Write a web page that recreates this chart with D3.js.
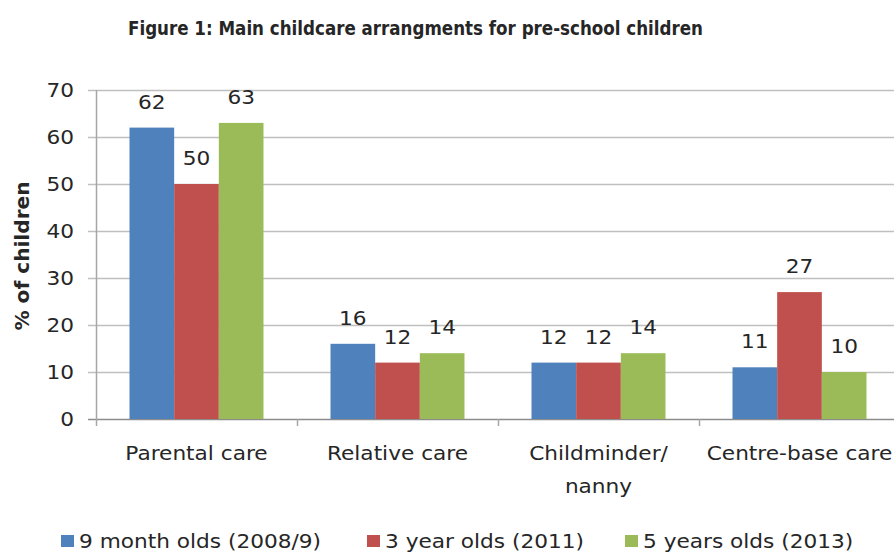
<!DOCTYPE html>
<html><head><meta charset="utf-8">
<script src="https://cdn.jsdelivr.net/npm/d3@7"></script>
<style>
html,body{margin:0;padding:0;background:#fff;}
svg{display:block;}
text{font-family:"DejaVu Sans",sans-serif;fill:#262626;}
</style></head>
<body>
<svg id="chart" width="894" height="554"></svg>
<script>
const categories = [["Parental care"], ["Relative care"], ["Childminder/", "nanny"], ["Centre-base care"]];
const seriesNames = ["9 month olds (2008/9)", "3 year olds (2011)", "5 years olds (2013)"];
const nineMonth = [62, 16, 12, 11];
const threeYear = [50, 12, 12, 27];
const fiveYear = [63, 14, 14, 10];
const yTicks = [0, 10, 20, 30, 40, 50, 60, 70];
const colors = ["#4F81BD", "#C0504D", "#9BBB59"];
const titleText = "Figure 1: Main childcare arrangments for pre-school children";
const yLabel = "% of children";

const series = [nineMonth, threeYear, fiveYear];
const svg = d3.select("#chart");
const SX = 1.14;
const tr = (px, py) => `translate(${px},${py}) scale(${SX},1)`;

const x = d3.scaleBand().domain(d3.range(categories.length)).range([96, 900]).paddingInner(0).paddingOuter(0);
const bw = x.bandwidth();
const xs = d3.scaleBand().domain(d3.range(series.length)).range([bw/6, bw*5/6]).padding(0);
const y = d3.scaleLinear().domain([0, 70]).range([419, 90]);

// gridlines
svg.append("g").selectAll("line").data(yTicks).join("line")
  .attr("x1", 88).attr("x2", 900)
  .attr("y1", d => Math.round(y(d)) + 0.5).attr("y2", d => Math.round(y(d)) + 0.5)
  .attr("stroke", d => d === 0 ? "#8c8c8c" : "#bfbfbf").attr("stroke-width", 1.5);

// y axis line
svg.append("line").attr("x1", 96.5).attr("x2", 96.5).attr("y1", y(70)).attr("y2", y(0) + 7)
  .attr("stroke", "#a6a6a6").attr("stroke-width", 1.5);

// x category ticks
svg.append("g").selectAll("line").data(d3.range(1, categories.length)).join("line")
  .attr("x1", d => x(d) + 0.5).attr("x2", d => x(d) + 0.5)
  .attr("y1", y(0)).attr("y2", y(0) + 7).attr("stroke", "#a6a6a6").attr("stroke-width", 1.5);

// y tick labels
svg.append("g").selectAll("text").data(yTicks).join("text")
  .attr("transform", d => tr(74, y(d))).attr("dy", "0.35em")
  .attr("text-anchor", "end").attr("font-size", 19).text(d => d);

// bars
series.forEach((vals, si) => {
  const g = svg.append("g");
  g.selectAll("rect").data(vals).join("rect")
    .attr("x", (d, i) => x(i) + xs(si)).attr("width", xs.bandwidth())
    .attr("y", d => y(d)).attr("height", d => y(0) - y(d))
    .attr("fill", colors[si]);
  g.selectAll("text").data(vals).join("text")
    .attr("transform", (d, i) => tr(x(i) + xs(si) + xs.bandwidth()/2, y(d) - 19))
    .attr("text-anchor", "middle").attr("font-size", 19).text(d => d);
});

// category labels
const cl = svg.append("g").selectAll("text").data(categories).join("text")
  .attr("transform", (d, i) => tr(x(i) + bw/2, 460))
  .attr("text-anchor", "middle").attr("font-size", 19);
cl.selectAll("tspan").data(d => d).join("tspan")
  .attr("x", 0).attr("dy", (d, j) => j === 0 ? 0 : 33).text(d => d);

// title
svg.append("text").attr("x", 128).attr("y", 35).attr("font-size", 19).attr("font-weight", "bold")
  .attr("fill", "#111")
  .attr("textLength", 575).attr("lengthAdjust", "spacingAndGlyphs").text(titleText);

// y label
svg.append("text").attr("transform", "translate(29,256) rotate(-90) scale(1.06,1)")
  .attr("text-anchor", "middle").attr("font-size", 19).attr("font-weight", "bold").text(yLabel);

// legend
const legX = [61, 367, 625];
const lg = svg.append("g").selectAll("g").data(seriesNames).join("g")
  .attr("transform", (d, i) => `translate(${legX[i]},535)`);
lg.append("rect").attr("width", 13).attr("height", 12).attr("fill", (d, i) => colors[i]);
lg.append("text").attr("transform", tr(18, 13)).attr("font-size", 19).text(d => d);
</script>
</body></html>
